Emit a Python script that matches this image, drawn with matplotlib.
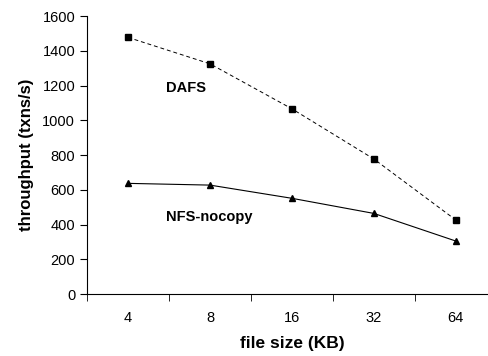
import numpy as np
import matplotlib.pyplot as plt

plt.rcParams['font.family'] = ['Liberation Sans', 'DejaVu Sans']

sizes = ['4', '8', '16', '32', '64']
dafs = [1477, 1325, 1066, 777, 426]
nfs_nocopy = [637, 627, 551, 464, 305]

x = np.arange(len(sizes))

fig = plt.figure(figsize=(4.89, 3.56), dpi=100)
ax = fig.add_axes([0.178, 0.174, 0.838, 0.781])

ax.plot(x, dafs, color='black', linestyle=(0, (4, 3)), linewidth=0.7,
        marker='s', markersize=4.5)
ax.plot(x, nfs_nocopy, color='black', linestyle='-', linewidth=0.8,
        marker='^', markersize=4.5)

ax.text(0.46, 1186, 'DAFS', fontsize=10.5, fontweight='bold', va='center')
ax.text(0.46, 443, 'NFS-nocopy', fontsize=10.5, fontweight='bold', va='center')

ax.set_xlim(-0.5, 4.5)
ax.set_ylim(0, 1600)
ax.set_yticks(range(0, 1601, 200))
ax.set_xticks(x)
ax.set_xticklabels(sizes)
ax.set_xticks(np.arange(-0.5, 4.5, 1), minor=True)
ax.tick_params(axis='x', which='major', length=0, pad=12, labelsize=10.5)
ax.tick_params(axis='x', which='minor', length=5, direction='out')
ax.tick_params(axis='y', length=5, direction='out', labelsize=10.5)

ax.spines['top'].set_visible(False)
ax.spines['right'].set_visible(False)

ax.set_xlabel('file size (KB)', fontsize=12.5, fontweight='bold', labelpad=8)
ax.set_ylabel('throughput (txns/s)', fontsize=12, fontweight='bold', labelpad=6)

fig.savefig('out.png', dpi=100)
